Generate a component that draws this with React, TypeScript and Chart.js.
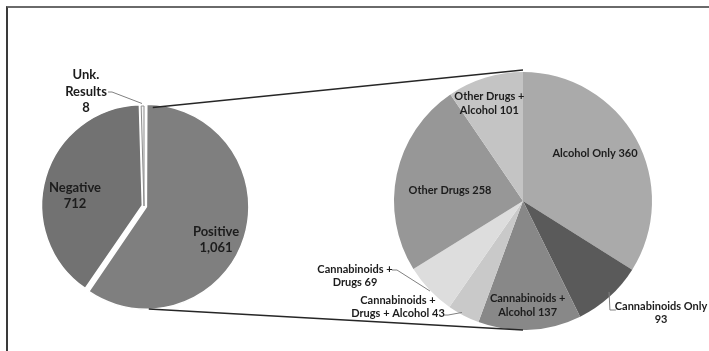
import React, { useEffect, useRef } from "react";
import { Chart, registerables } from "chart.js";

Chart.register(...registerables);

// ---------- DATA ----------
const overviewCategories: string[][] = [["Positive"], ["Negative"], ["Unk.", "Results"]];
const overviewValues: number[] = [1061, 712, 8];

const positiveCategories: string[][] = [
  ["Alcohol Only"],
  ["Cannabinoids Only"],
  ["Cannabinoids +", "Alcohol"],
  ["Cannabinoids +", "Drugs + Alcohol"],
  ["Cannabinoids +", "Drugs"],
  ["Other Drugs"],
  ["Other Drugs +", "Alcohol"],
];
const positiveValues: number[] = [360, 93, 137, 43, 69, 258, 101];

// ---------- STYLE ----------
const W = 709;
const H = 351;
const FONT = "Lato, Carlito, 'Open Sans', sans-serif";

type LabelStyle = {
  pos: [number, number]; // block centre relative to pie centre, in radius units
  valueOwnLine: boolean;
  leader?: [number, number][];
};

const leftStyle = {
  padding: { left: 44, right: 465, top: 106, bottom: 45 },
  radius: 100,
  colors: ["#7f7f7f", "#727272", "#f6f6f6"],
  borderColors: ["#ffffff", "#ffffff", "#8c8c8c"],
  borderWidths: [1.5, 1.5, 1],
  offsets: [10, 7, 0],
  fontSize: 13,
  lineHeight: 16.3,
};
const leftLabels: LabelStyle[] = [
  { pos: [0.72, 0.335], valueOwnLine: true },
  { pos: [-0.69, -0.103], valueOwnLine: true },
  {
    pos: [-0.58, -1.145],
    valueOwnLine: true,
    leader: [
      [-0.36, -1.14],
      [-0.32, -1.14],
      [-0.02, -1.025],
    ],
  },
];

const rightStyle = {
  padding: { left: 394, right: 57, top: 72, bottom: 21 },
  radius: 129,
  colors: ["#aaaaaa", "#5a5a5a", "#888888", "#c9c9c9", "#dddddd", "#979797", "#c4c4c4"],
  fontSize: 11,
  lineHeight: 13.5,
};
const rightLabels: LabelStyle[] = [
  { pos: [0.558, -0.37], valueOwnLine: false },
  {
    pos: [1.07, 0.868],
    valueOwnLine: true,
    leader: [
      [0.667, 0.705],
      [0.674, 0.845],
      [0.72, 0.845],
    ],
  },
  { pos: [0.036, 0.81], valueOwnLine: false },
  {
    pos: [-0.969, 0.822],
    valueOwnLine: false,
    leader: [
      [-0.62, 0.884],
      [-0.581, 0.884],
      [-0.473, 0.864],
    ],
  },
  {
    pos: [-1.302, 0.581],
    valueOwnLine: false,
    leader: [
      [-1.016, 0.535],
      [-0.977, 0.535],
      [-0.721, 0.698],
    ],
  },
  { pos: [-0.566, -0.085], valueOwnLine: false },
  { pos: [-0.261, -0.757], valueOwnLine: false },
];

const fmt = (v: number) => v.toLocaleString("en-US");

function makeLabelPlugin(
  id: string,
  names: string[][],
  values: number[],
  styles: LabelStyle[],
  fontSize: number,
  lineHeight: number
) {
  return {
    id,
    afterDatasetsDraw(chart: any) {
      const ctx: CanvasRenderingContext2D = chart.ctx;
      const meta = chart.getDatasetMeta(0);
      ctx.save();
      meta.data.forEach((arc: any, i: number) => {
        const st = styles[i];
        if (!st) return;
        const { x, y, outerRadius } = arc.getProps(["x", "y", "outerRadius"], true);
        const lines = [...names[i]];
        if (st.valueOwnLine) lines.push(fmt(values[i]));
        else lines[lines.length - 1] = lines[lines.length - 1] + " " + fmt(values[i]);
        if (st.leader) {
          ctx.beginPath();
          ctx.strokeStyle = "#808080";
          ctx.lineWidth = 1;
          st.leader.forEach(([fx, fy], k) => {
            const px = x + fx * outerRadius;
            const py = y + fy * outerRadius;
            if (k === 0) ctx.moveTo(px, py);
            else ctx.lineTo(px, py);
          });
          ctx.stroke();
        }
        ctx.fillStyle = "#1c1c1c";
        ctx.font = `bold ${fontSize}px ${FONT}`;
        ctx.textAlign = "center";
        ctx.textBaseline = "middle";
        const cx = x + st.pos[0] * outerRadius;
        const cy = y + st.pos[1] * outerRadius;
        lines.forEach((ln, k) => {
          ctx.fillText(ln, cx, cy + (k - (lines.length - 1) / 2) * lineHeight);
        });
      });
      ctx.restore();
    },
  };
}

function arcShift(arc: any) {
  const { startAngle, endAngle, circumference } = arc.getProps(
    ["startAngle", "endAngle", "circumference"],
    true
  );
  const off = (arc.options.offset || 0) / 4;
  const fix = 1 - Math.sin(Math.min(Math.PI, circumference || 0));
  const total = off * (1 + fix);
  const half = (startAngle + endAngle) / 2;
  return { dx: Math.cos(half) * total, dy: Math.sin(half) * total };
}

export default function App() {
  const leftRef = useRef<HTMLCanvasElement>(null);
  const rightRef = useRef<HTMLCanvasElement>(null);

  useEffect(() => {
    const left = new Chart(leftRef.current as HTMLCanvasElement, {
      type: "pie",
      data: {
        labels: overviewCategories.map((c) => c.join(" ")),
        datasets: [
          {
            data: overviewValues,
            backgroundColor: leftStyle.colors,
            borderColor: leftStyle.borderColors,
            borderWidth: leftStyle.borderWidths,
            offset: leftStyle.offsets,
            radius: leftStyle.radius,
          } as any,
        ],
      },
      options: {
        responsive: false,
        maintainAspectRatio: false,
        animation: false,
        events: [],
        layout: { padding: leftStyle.padding },
        plugins: { legend: { display: false }, tooltip: { enabled: false } },
      } as any,
      plugins: [
        makeLabelPlugin(
          "leftLabels",
          overviewCategories,
          overviewValues,
          leftLabels,
          leftStyle.fontSize,
          leftStyle.lineHeight
        ),
      ],
    });

    const connector = {
      id: "connector",
      afterDatasetsDraw(chart: any) {
        const ctx: CanvasRenderingContext2D = chart.ctx;
        const lArc: any = left.getDatasetMeta(0).data[0];
        const rArc: any = chart.getDatasetMeta(0).data[0];
        if (!lArc || !rArc) return;
        const lp = lArc.getProps(["x", "y", "outerRadius"], true);
        const rp = rArc.getProps(["x", "y", "outerRadius"], true);
        const { dx, dy } = arcShift(lArc);
        ctx.save();
        ctx.strokeStyle = "#262626";
        ctx.lineWidth = 1.3;
        ctx.beginPath();
        ctx.moveTo(lp.x + dx + 4, lp.y + dy - lp.outerRadius);
        ctx.lineTo(rp.x, rp.y - rp.outerRadius - 2);
        ctx.moveTo(lp.x + dx, lp.y + dy + lp.outerRadius + 1.5);
        ctx.lineTo(rp.x, rp.y + rp.outerRadius);
        ctx.stroke();
        ctx.restore();
      },
    };

    const right = new Chart(rightRef.current as HTMLCanvasElement, {
      type: "pie",
      data: {
        labels: positiveCategories.map((c) => c.join(" ")),
        datasets: [
          {
            data: positiveValues,
            backgroundColor: rightStyle.colors,
            borderColor: rightStyle.colors,
            borderWidth: 0,
            radius: rightStyle.radius,
          } as any,
        ],
      },
      options: {
        responsive: false,
        maintainAspectRatio: false,
        animation: false,
        events: [],
        layout: { padding: rightStyle.padding },
        plugins: { legend: { display: false }, tooltip: { enabled: false } },
      } as any,
      plugins: [
        connector,
        makeLabelPlugin(
          "rightLabels",
          positiveCategories,
          positiveValues,
          rightLabels,
          rightStyle.fontSize,
          rightStyle.lineHeight
        ),
      ],
    });

    return () => {
      right.destroy();
      left.destroy();
    };
  }, []);

  const canvasStyle: React.CSSProperties = {
    position: "absolute",
    left: 0,
    top: 0,
    width: W,
    height: H,
  };

  return (
    <div
      style={{
        position: "fixed",
        left: 0,
        top: 0,
        width: W,
        height: H,
        background: "#ffffff",
        overflow: "hidden",
      }}
    >
      <div
        style={{
          position: "absolute",
          left: 6,
          top: 6,
          width: W,
          height: H,
          borderTop: "2px solid #6a6a6a",
          borderLeft: "2px solid #3a3a3a",
        }}
      />
      <canvas ref={leftRef} width={W} height={H} style={canvasStyle} />
      <canvas ref={rightRef} width={W} height={H} style={canvasStyle} />
    </div>
  );
}
